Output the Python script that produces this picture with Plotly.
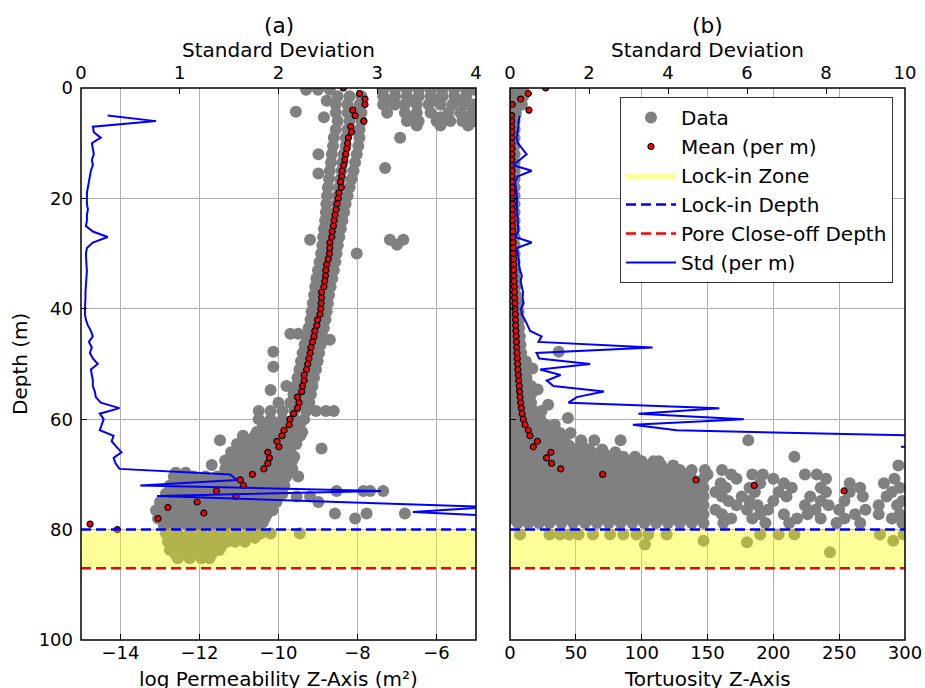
import plotly.graph_objects as go

# ---------------- shared depths ----------------
lock_in_depth = 80
pore_close_depth = 87

# ---------------- panel (a): log permeability ----------------
# gray "Data" cloud, rows of (depth, [log permeability values])
perm_rows = [
    (0.3, [-9.3, -9.0, -8.7, -7.35, -7.05, -6.75, -6.45, -6.15, -5.85, -5.55, -5.25, -5.05]),
    (1.5, [-8.5, -8.2, -7.9, -7.35, -7.05, -6.75, -6.45, -6.15, -5.85, -5.55, -5.25]),
    (2.3, [-8.78, -7.2, -6.6, -6.0, -5.4]),
    (3.0, [-8.55, -8.25, -7.95, -7.35, -7.05, -6.8, -6.5, -6.2, -5.9, -5.6, -5.3, -5.05]),
    (4.3, [-9.56]),
    (4.5, [-8.55, -8.25, -7.9, -7.25, -6.8, -6.5, -6.15, -5.7, -5.4, -5.1]),
    (5.3, [-8.85, -6.6, -5.9, -5.25]),
    (6.0, [-8.5, -8.2, -7.9, -6.75, -6.45, -6.0, -5.65, -5.35, -5.05]),
    (6.8, [-6.5, -5.9, -5.2]),
    (7.5, [-8.55, -8.25, -7.95]),
    (9.0, [-8.6, -8.3, -7.95, -6.92]),
    (10.5, [-8.62, -8.3, -7.98]),
    (12.0, [-8.65, -8.35, -8.02, -8.99]),
    (13.5, [-8.67, -8.38, -8.06]),
    (14.5, [-7.30]),
    (15.0, [-8.7, -8.4, -8.1]),
    (15.5, [-8.99]),
    (16.5, [-8.72, -8.43, -8.15]),
    (18.0, [-8.75, -8.47, -8.2]),
    (19.5, [-8.77, -8.5, -8.25]),
    (21.0, [-8.79, -8.53, -8.3]),
    (22.5, [-8.8, -8.56, -8.34]),
    (24.0, [-8.82, -8.59, -8.38]),
    (25.5, [-8.85, -8.62, -8.42]),
    (27.0, [-8.87, -8.66, -8.46]),
    (27.5, [-9.2, -7.18, -6.84]),
    (28.4, [-7.0]),
    (28.5, [-8.89, -8.69, -8.5]),
    (30.0, [-8.92, -8.72, -8.53, -8.02]),
    (31.5, [-8.96, -8.75, -8.56]),
    (33.0, [-9.0, -8.78, -8.6]),
    (34.5, [-9.04, -8.83, -8.64]),
    (36.0, [-9.07, -8.86, -8.68]),
    (37.5, [-9.1, -8.9, -8.72]),
    (39.0, [-9.13, -8.93, -8.75]),
    (40.5, [-9.16, -8.96, -8.78]),
    (42.0, [-9.19, -9.0, -8.81]),
    (43.5, [-9.24, -9.04, -8.85]),
    (44.5, [-9.7, -9.5]),
    (45.0, [-9.29, -9.08, -8.89]),
    (45.6, [-8.7]),
    (46.5, [-9.34, -9.13, -8.93]),
    (47.8, [-10.13]),
    (48.0, [-9.39, -9.18, -8.97]),
    (49.5, [-9.43, -9.22, -9.01]),
    (50.5, [-10.13]),
    (51.0, [-9.47, -9.26, -9.05]),
    (52.5, [-9.52, -9.31, -9.1]),
    (54.0, [-9.56, -9.35, -9.14, -9.8]),
    (54.7, [-10.2]),
    (55.5, [-9.62, -9.4, -9.18]),
    (57.0, [-10.0, -9.7, -9.46, -9.22]),
    (58.5, [-10.5, -10.2, -9.9, -9.6, -9.3, -9.05, -8.8, -8.6]),
    (60.0, [-10.5, -10.2, -9.9, -9.6, -9.35]),
    (60.8, [-10.35, -10.05, -9.75, -9.45]),
    (61.5, [-10.4, -10.1, -9.8, -9.5]),
    (62.3, [-10.55, -10.25, -9.95, -9.65, -9.4]),
    (63.0, [-10.9, -10.6, -10.3, -10.0, -9.7, -9.45]),
    (63.8, [-11.48, -10.75, -10.45, -10.15, -9.85, -9.55]),
    (64.5, [-11.05, -10.75, -10.45, -10.15, -9.85, -9.55]),
    (65.3, [-10.9, -10.6, -10.3, -10.0, -9.7, -8.91]),
    (66.0, [-11.2, -10.9, -10.6, -10.3, -10.0, -9.7]),
    (66.8, [-11.05, -10.75, -10.45, -10.15, -9.85, -9.6]),
    (67.5, [-11.35, -11.05, -10.75, -10.45, -10.15, -9.85, -9.65]),
    (68.3, [-11.69, -11.2, -10.9, -10.6, -10.3, -10.0, -9.75]),
    (69.0, [-11.35, -11.05, -10.75, -10.45, -10.15, -9.85, -9.65]),
    (69.7, [-12.6, -12.35, -11.2, -10.9, -10.6, -10.3, -10.0, -9.75]),
    (70.4, [-12.65, -12.4, -12.15, -11.85, -11.55, -11.25, -10.95, -10.65, -10.35, -10.05, -9.8, -9.5]),
    (71.2, [-12.55, -12.3, -12.0, -11.7, -11.4, -11.1, -10.8, -10.5, -10.2, -9.95]),
    (72.0, [-12.75, -12.45, -12.15, -11.85, -11.55, -11.25, -10.95, -10.65, -10.35, -10.05, -9.85]),
    (72.8, [-12.6, -12.3, -12.0, -11.7, -11.4, -11.1, -10.8, -10.5, -10.2, -9.95]),
    (73.0, [-8.53, -7.85, -7.68, -7.35]),
    (73.5, [-12.85, -12.55, -12.25, -11.95, -11.65, -11.35, -11.05, -10.75, -10.45, -10.15, -9.9]),
    (74.0, [-9.54, -9.2]),
    (74.3, [-12.7, -12.4, -12.1, -11.8, -11.5, -11.2, -10.9, -10.6, -10.3, -10.05]),
    (75.0, [-13.0, -12.7, -12.4, -12.1, -11.8, -11.5, -11.2, -10.9, -10.6, -10.3, -10.05, -8.99]),
    (75.8, [-12.85, -12.55, -12.25, -11.95, -11.65, -11.35, -11.05, -10.75, -10.45, -10.2]),
    (76.5, [-13.1, -12.8, -12.5, -12.2, -11.9, -11.6, -11.3, -11.0, -10.7, -10.4, -10.15]),
    (77.1, [-8.57, -7.77, -6.80]),
    (77.3, [-12.9, -12.6, -12.3, -12.0, -11.7, -11.4, -11.1, -10.8, -10.5, -10.3]),
    (78.0, [-13.05, -12.75, -12.45, -12.15, -11.85, -11.55, -11.25, -10.95, -10.65, -10.35, -8.06]),
    (78.7, [-12.75, -12.45, -12.15, -11.85, -11.55, -11.25, -10.95, -10.65, -10.4]),
    (79.3, [-12.9, -12.6, -12.3, -12.0, -11.7, -11.4, -11.1, -10.8, -10.5]),
    (80.7, [-12.85, -12.55, -12.25, -11.95, -11.65, -11.35, -11.05, -10.75, -10.45, -10.2, -9.46]),
    (81.5, [-12.7, -12.4, -12.1, -11.8, -11.5, -11.2, -10.9, -10.6]),
    (82.2, [-12.8, -12.5, -12.2, -11.9, -11.6, -11.3, -11.1, -10.85]),
    (83.0, [-12.65, -12.35, -12.05, -11.75, -11.45]),
    (83.7, [-12.75, -12.45, -12.15, -11.85, -11.5]),
    (84.5, [-12.6, -12.3, -12.0, -11.7]),
    (85.2, [-12.55, -12.25, -11.95, -11.75]),
]

mean_perm_depth = list(range(0, 81))
mean_perm = [
    -8.36, -7.95, -7.81, -7.81, -8.12, -8.06, -7.84, -8.17, -8.15, -8.23,
    -8.25, -8.27, -8.30, -8.32, -8.35, -8.39, -8.40, -8.43, -8.41, -8.47,
    -8.49, -8.52, -8.54, -8.57, -8.59, -8.61, -8.64, -8.65, -8.70, -8.70,
    -8.71, -8.74, -8.78, -8.80, -8.81, -8.83, -8.85, -8.91, -8.91, -8.92,
    -8.93, -8.95, -9.01, -9.03, -9.08, -9.10, -9.14, -9.18, -9.20, -9.23,
    -9.26, -9.29, -9.35, -9.35, -9.39, -9.41, -9.52, -9.48, -9.52, -9.62,
    -9.71, -9.73, -9.86, -9.91, -10.04, -9.99, -10.27, -10.23, -10.27, -10.37,
    -10.66, -10.97, -10.89, -11.57, -11.08, -12.06, -12.80, -11.89, -13.05, -14.77,
    -14.08,
]

std_perm_depth = [
    5, 6, 7, 8, 9, 10, 11, 12, 13, 14, 15, 16, 17, 18, 19, 20, 21, 22, 23, 24,
    25, 26, 27, 28, 29, 30, 31, 32, 33, 34, 35, 36, 37, 38, 39, 40, 41, 42, 43, 44,
    45, 46, 47, 48, 49, 50, 51, 52, 53, 54, 55, 56, 57, 58, 59, 60, 61, 62, 63, 64,
    65, 66, 67, 68, 69, 70, 71, 72, 73, 73.9, 75.9, 76.8, 77.8,
]
std_perm = [
    0.27, 0.76, 0.12, 0.13, 0.20, 0.11, 0.12, 0.13, 0.11, 0.12, 0.10, 0.09, 0.08, 0.07, 0.06, 0.06,
    0.06, 0.07, 0.06, 0.06, 0.05, 0.12, 0.27, 0.12, 0.06, 0.05, 0.05, 0.055, 0.06, 0.055, 0.05, 0.05,
    0.045, 0.045, 0.04, 0.04, 0.04, 0.05, 0.07, 0.10, 0.12, 0.08, 0.11, 0.09, 0.12, 0.17, 0.10, 0.11,
    0.12, 0.12, 0.14, 0.15, 0.20, 0.39, 0.19, 0.23, 0.21, 0.19, 0.33, 0.31, 0.36, 0.41, 0.33, 0.35,
    0.39, 1.51, 1.58, 0.60, 3.04, 0.77, 4.15, 3.36, 4.5,
]

# ---------------- panel (b): tortuosity ----------------
tort_rows = [
    (0.3, [1.5, 6, 10]),
    (1.5, [1.5, 6, 10]),
    (3.0, [1.5, 5, 9]),
    (4.5, [1.5, 4.5]),
    (6.0, [1.0, 3.5]), (7.5, [1.0, 3.5]), (9.0, [1.0, 3.5]), (10.5, [1.0, 3.5]),
    (12.0, [1.0, 3.5]), (13.5, [1.0, 3.5]), (15.0, [1.0, 3.5]), (16.5, [1.0, 3.5]),
    (18.0, [1.0, 3.5]), (19.5, [1.0, 3.5]), (21.0, [1.0, 3.5]), (22.5, [1.0, 3.5]),
    (24.0, [1.0, 3.5]), (25.5, [1.0, 3.5]), (27.0, [1.0, 3.5]), (28.5, [1.0, 3.5]),
    (30.0, [1.0, 3.5]), (31.5, [1.0, 3.5]), (33.0, [1.0, 4.0]), (34.5, [1.0, 4.0]),
    (36.0, [1.0, 4.0]), (37.5, [1.0, 4.5]),
    (39.0, [1.0, 3.5, 6.5]), (40.5, [1.0, 3.5, 6.5]), (42.0, [1.0, 4.0, 7.0]),
    (43.5, [1.0, 4.0, 7.0]), (45.0, [1.0, 4.0, 7.5]), (46.5, [1.0, 4.0, 8.0]),
    (47.8, [37.0]),
    (48.0, [1.0, 4.5, 8.5]),
    (49.5, [1.0, 4.0, 8.0, 12.0]),
    (50.8, [17.0]),
    (51.0, [1.0, 4.0, 8.0, 12.0]),
    (52.5, [1.0, 4.0, 8.0, 12.5]),
    (54.0, [1.0, 4.0, 8.0, 12.0, 16.0]),
    (54.6, [21.0]),
    (55.5, [1.0, 4.0, 8.0, 12.0, 16.0]),
    (57.0, [1.0, 4.0, 8.0, 12.0, 16.0]),
    (57.4, [29.0]),
    (58.5, [1.0, 4.0, 8.0, 13.0, 18.0, 24.0]),
    (59.8, [44.0]),
    (60.0, [1.0, 4.0, 8.0, 13.0, 18.0, 23.0]),
    (61.0, [2, 8, 14, 20, 27, 34]),
    (61.8, [5, 11, 17, 24, 31]),
    (62.5, [2, 8, 15, 22, 30, 38, 46]),
    (63.2, [5, 12, 19, 26, 34, 42]),
    (63.8, [54, 64, 84, 181]),
    (64.0, [2, 9, 16, 23, 31, 39]),
    (64.8, [5, 13, 21, 29, 37, 45, 55]),
    (65.5, [2, 9, 17, 25, 33, 41, 50, 60, 70]),
    (66.0, [5, 12, 20, 28, 36, 44, 53, 62, 71, 80]),
    (66.8, [2, 10, 18, 26, 34, 42, 50, 59, 68, 77, 86, 95, 216]),
    (67.6, [6, 14, 22, 30, 38, 46, 55, 64, 73, 82, 91, 100, 109, 113]),
    (68.4, [2, 10, 18, 26, 34, 43, 52, 61, 70, 79, 88, 97, 106, 115, 124, 295]),
    (69.2, [6, 14, 22, 30, 39, 48, 57, 66, 75, 84, 93, 102, 111, 120, 129, 138, 148, 161]),
    (70.0, [2, 10, 18, 26, 35, 44, 53, 62, 71, 80, 89, 98, 107, 116, 125, 134, 150, 168, 184, 192,
            224, 233]),
    (70.8, [6, 14, 22, 30, 39, 48, 57, 66, 75, 84, 93, 102, 111, 120, 129, 138, 147, 172, 200,
            240, 292]),
    (71.6, [2, 10, 18, 26, 35, 44, 53, 62, 71, 80, 89, 98, 107, 116, 125, 134, 143, 160, 190,
            208, 258, 284]),
    (72.4, [6, 14, 22, 30, 39, 48, 57, 66, 75, 84, 93, 102, 111, 120, 129, 138, 147, 164, 182,
            214, 236, 266, 296]),
    (73.2, [2, 10, 18, 26, 35, 44, 53, 62, 71, 80, 89, 98, 107, 116, 125, 134, 143, 156, 186,
            204, 240, 258, 290]),
    (74.0, [6, 14, 22, 30, 39, 48, 57, 66, 75, 84, 93, 102, 111, 120, 129, 138, 147, 161, 176,
            210, 228, 268, 286]),
    (74.8, [2, 10, 18, 26, 35, 44, 53, 62, 71, 80, 89, 98, 107, 116, 125, 134, 143, 166, 182,
            200, 236, 254, 298]),
    (75.6, [6, 14, 22, 30, 39, 48, 57, 66, 75, 84, 93, 102, 111, 120, 129, 138, 147, 172, 188,
            224, 242, 280, 294]),
    (76.4, [2, 10, 18, 26, 35, 44, 53, 62, 71, 80, 89, 98, 107, 116, 125, 134, 143, 156, 180,
            196, 232, 250, 270]),
    (77.2, [6, 14, 22, 30, 39, 48, 57, 66, 75, 84, 93, 102, 111, 120, 129, 138, 147, 161, 190,
            208, 226, 262, 280, 296]),
    (78.0, [2, 10, 18, 26, 35, 44, 53, 62, 71, 80, 89, 98, 107, 116, 125, 134, 143, 168, 184,
            218, 236, 254, 290]),
    (78.8, [6, 14, 22, 30, 39, 48, 57, 66, 75, 84, 93, 102, 111, 120, 129, 138, 147, 162, 194,
            212, 248, 266, 298]),
    (80.9, [7.6, 30, 38, 45, 52, 63, 76, 86, 96, 105, 119, 190, 204, 216, 281, 299]),
    (82.0, [147, 291]),
    (82.3, [180]),
    (82.7, [102.5]),
    (84.1, [243]),
]

mean_tort_depth = list(range(0, 74))
mean_tort = [
    27.1, 13.9, 8.1, 1.7, 14.4, 1.3, 1.3, 1.3, 1.4, 1.4,
    1.4, 1.5, 1.5, 1.5, 1.6, 1.6, 1.6, 1.7, 1.7, 1.8,
    1.8, 1.9, 1.9, 2.0, 2.0, 2.1, 2.2, 2.3, 2.4, 2.5,
    2.6, 2.7, 2.8, 2.9, 3.0, 3.1, 3.3, 3.4, 3.5, 3.7,
    3.8, 4.0, 4.2, 4.3, 4.5, 4.7, 4.9, 5.1, 5.3, 5.5,
    5.8, 6.0, 6.3, 6.6, 7.0, 7.3, 7.7, 8.1, 8.6, 9.2,
    10.1, 11.4, 13.9, 15.2, 20.8, 17.7, 31.1, 27.8, 31.6, 38.5,
    70.4, 141.3, 185.5, 253.7,
]

std_tort_depth = list(range(5, 67))
std_tort = [
    0.25, 0.22, 0.21, 0.19, 0.17, 0.20, 0.30, 0.42, 0.25, 0.08,
    0.55, 0.20, 0.13, 0.15, 0.17, 0.18, 0.17, 0.18, 0.19, 0.20,
    0.20, 0.21, 0.13, 0.55, 0.17, 0.20, 0.22, 0.23, 0.25, 0.30,
    0.27, 0.30, 0.33, 0.32, 0.34, 0.28, 0.30, 0.38, 0.45, 0.51,
    0.80, 0.72, 3.61, 0.67, 0.74, 2.03, 0.76, 1.28, 0.93, 1.10,
    2.38, 1.69, 1.48, 5.30, 3.25, 5.92, 3.11, 4.22, 10.5, 11.5,
    9.9, 11.5,
]

perm_ticks = [-14, -12, -10, -8, -6]
perm_ticktext = ["\u221214", "\u221212", "\u221210", "\u22128", "\u22126"]
tort_ticks = [0, 50, 100, 150, 200, 250, 300]
depth_ticks = [0, 20, 40, 60, 80, 100]
std_a_ticks = [0, 1, 2, 3, 4]
std_b_ticks = [0, 2, 4, 6, 8, 10]


def flatten(rows):
    ds, vs = [], []
    for d, vals in rows:
        for v in vals:
            ds.append(d)
            vs.append(v)
    return ds, vs


pa_d, pa_v = flatten(perm_rows)
tb_d, tb_v = flatten(tort_rows)

W, H = 925, 688
L1, R1, L2, R2, TOP, BOT = 81, 476, 510, 905, 88, 640
FONT = "DejaVu Sans"
GRAY = "#808080"
DASH = "10px,5px"

fig = go.Figure()


def add_panel(xa, ya, xs, d_data, v_data, mean_d, mean_v, xr, std_d, std_v, show):
    fig.add_trace(go.Scatter(x=v_data, y=d_data, mode="markers", xaxis=xa, yaxis=ya,
                             marker=dict(size=12, color=GRAY), name="Data", showlegend=show))
    fig.add_trace(go.Scatter(x=mean_v, y=mean_d, mode="markers", xaxis=xa, yaxis=ya,
                             marker=dict(size=6, color="red", line=dict(color="black", width=1.2)),
                             name="Mean (per m)", showlegend=show))
    fig.add_trace(go.Scatter(x=[xr[0], xr[1], xr[1], xr[0], xr[0]],
                             y=[lock_in_depth, lock_in_depth, pore_close_depth, pore_close_depth, lock_in_depth],
                             mode="lines", fill="toself", fillcolor="rgba(255,255,0,0.4)",
                             line=dict(width=0, color="rgba(255,255,0,0.4)"), xaxis=xa, yaxis=ya,
                             name="Lock-in Zone", showlegend=show))
    fig.add_trace(go.Scatter(x=list(xr), y=[lock_in_depth, lock_in_depth], mode="lines",
                             xaxis=xa, yaxis=ya, line=dict(color="blue", width=2.5, dash=DASH),
                             name="Lock-in Depth", showlegend=show))
    fig.add_trace(go.Scatter(x=list(xr), y=[pore_close_depth, pore_close_depth], mode="lines",
                             xaxis=xa, yaxis=ya, line=dict(color="red", width=2.5, dash=DASH),
                             name="Pore Close-off Depth", showlegend=show))
    fig.add_trace(go.Scatter(x=std_v, y=std_d, mode="lines", xaxis=xs, yaxis=ya,
                             line=dict(color="blue", width=2), name="Std (per m)",
                             showlegend=show))


add_panel("x", "y", "x3", pa_d, pa_v, mean_perm_depth, mean_perm, (-15, -5),
          std_perm_depth, std_perm, False)
add_panel("x2", "y2", "x4", tb_d, tb_v, mean_tort_depth, mean_tort, (0, 300),
          std_tort_depth, std_tort, True)

tickfont = dict(family=FONT, size=18, color="black")
common = dict(ticks="inside", ticklen=6, tickwidth=1.2, tickcolor="black", showline=False,
              zeroline=False, tickfont=tickfont, automargin=False)
dom1 = [L1 / W, R1 / W]
dom2 = [L2 / W, R2 / W]
ydom = [1 - BOT / H, 1 - TOP / H]

fig.update_layout(
    width=W, height=H, margin=dict(l=0, r=0, t=0, b=0, autoexpand=False),
    paper_bgcolor="white", plot_bgcolor="white",
    font=dict(family=FONT, size=18, color="black"),
    xaxis=dict(domain=dom1, anchor="y", range=[-15, -5], tickvals=perm_ticks, ticktext=perm_ticktext,
               showgrid=True, gridcolor="#b0b0b0", gridwidth=1, **common),
    yaxis=dict(domain=ydom, anchor="x", range=[100, 0], tickvals=depth_ticks,
               showgrid=True, gridcolor="#b0b0b0", gridwidth=1, ticklabelstandoff=7, **common),
    xaxis2=dict(domain=dom2, anchor="y2", range=[0, 300], tickvals=tort_ticks,
                showgrid=True, gridcolor="#b0b0b0", gridwidth=1, **common),
    yaxis2=dict(domain=ydom, anchor="x2", range=[100, 0], tickvals=depth_ticks, matches="y",
                showticklabels=False, showgrid=True, gridcolor="#b0b0b0", gridwidth=1, **common),
    xaxis3=dict(overlaying="x", side="top", anchor="y", range=[0, 4], tickvals=std_a_ticks,
                showgrid=False, ticklabelstandoff=4, **common),
    xaxis4=dict(overlaying="x2", side="top", anchor="y2", range=[0, 10], tickvals=std_b_ticks,
                showgrid=False, ticklabelstandoff=4, **common),
    legend=dict(x=620 / W, y=1 - 97 / H, xanchor="left", yanchor="top", bgcolor="white",
                bordercolor="#333333", borderwidth=1, font=dict(family=FONT, size=20),
                itemwidth=50),
    showlegend=True,
)

for x0, x1 in [(L1, R1), (L2, R2)]:
    fig.add_shape(type="rect", xref="paper", yref="paper", x0=x0 / W, x1=x1 / W,
                  y0=1 - BOT / H, y1=1 - TOP / H, line=dict(color="black", width=1.5),
                  fillcolor="rgba(0,0,0,0)", layer="above")

ann = [
    ("(a)", (L1 + R1) / 2, 26, 21.6, 0),
    ("(b)", (L2 + R2) / 2, 26, 21.6, 0),
    ("Standard Deviation", (L1 + R1) / 2, 50, 20, 0),
    ("Standard Deviation", (L2 + R2) / 2, 50, 20, 0),
    ("log Permeability Z-Axis (m\u00b2)", (L1 + R1) / 2, 679, 20, 0),
    ("Tortuosity Z-Axis", (L2 + R2) / 2, 679, 20, 0),
    ("Depth (m)", 20, (TOP + BOT) / 2, 20, -90),
]
for text, px, py, size, ang in ann:
    fig.add_annotation(text=text, x=px / W, y=1 - py / H, xref="paper", yref="paper",
                       showarrow=False, xanchor="center", yanchor="middle", textangle=ang,
                       font=dict(family=FONT, size=size, color="black"))

fig.write_html("out.html")
